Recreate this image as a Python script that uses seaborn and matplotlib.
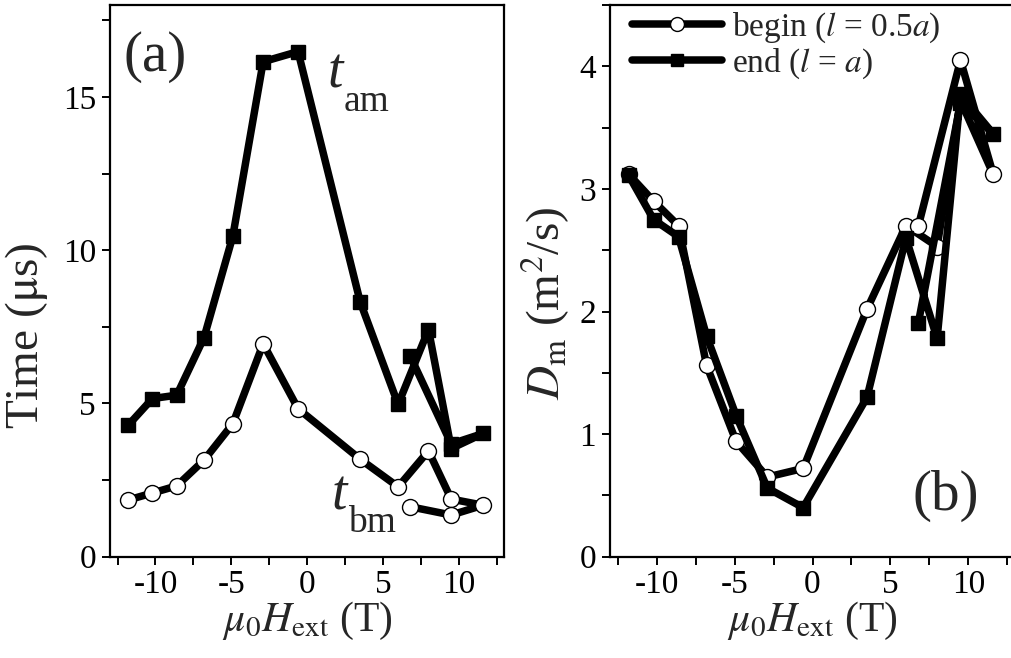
import matplotlib
matplotlib.use("Agg")
import matplotlib.pyplot as plt
import seaborn as sns
from matplotlib.lines import Line2D
from matplotlib.ticker import MultipleLocator

# Field sweep (T): up from -12 T to +12 T, then back down
field = [-11.8, -10.2, -8.6, -6.8, -4.9, -2.9, -0.6, 3.5, 6.0, 8.0, 9.5, 11.6, 9.5, 6.8]

# (a) characteristic times (us)
t_am = [4.29, 5.16, 5.27, 7.15, 10.46, 16.15, 16.48, 8.31, 4.97, 7.41, 3.53, 4.02, 3.68, 6.54]
t_bm = [1.85, 2.08, 2.31, 3.15, 4.34, 6.95, 4.83, 3.18, 2.28, 3.45, 1.88, 1.68, 1.36, 1.63]

# (b) diffusion coefficient D_m (m^2/s)
d_begin = [3.12, 2.90, 2.70, 1.56, 0.94, 0.65, 0.72, 2.02, 2.70, 2.53, 3.72, 3.12, 4.05, 2.70]
d_end = [3.11, 2.75, 2.61, 1.80, 1.15, 0.56, 0.40, 1.30, 2.60, 1.78, 3.77, 3.45, 3.70, 1.91]

x_ticks = [-10, -5, 0, 5, 10]
x_labels = ["-10", "-5", "0", "5", "10"]

sns.set_theme(style="ticks")
plt.rcParams.update({
    "font.family": ["Liberation Serif", "DejaVu Serif"],
    "mathtext.fontset": "stix",
    "axes.unicode_minus": False,
    "axes.linewidth": 1.6,
    "axes.edgecolor": "black",
    "xtick.color": "black",
    "ytick.color": "black",
    "xtick.direction": "out",
    "ytick.direction": "out",
    "xtick.major.size": 6,
    "ytick.major.size": 6,
    "xtick.minor.size": 6,
    "ytick.minor.size": 6,
    "xtick.major.width": 1.4,
    "ytick.major.width": 1.4,
    "xtick.minor.width": 1.4,
    "ytick.minor.width": 1.4,
    "xtick.labelsize": 24,
    "ytick.labelsize": 24,
})

W, H = 1011, 658
fig = plt.figure(figsize=(W / 100, H / 100), dpi=100)
bottom = (H - 556.7) / H
height = (556.7 - 5) / H
ax1 = fig.add_axes([110 / W, bottom, (504.3 - 110) / W, height])
ax2 = fig.add_axes([610 / W, bottom, (1015 - 610) / W, height])

LW = 5.4
sq = dict(marker="s", ms=10, mfc="black", mec="black", mew=1)
ci = dict(marker="o", ms=11.5, mfc="white", mec="black", mew=1)

# panel (a)
sns.lineplot(x=field, y=t_am, sort=False, estimator=None, color="black",
             lw=LW, ax=ax1, **sq)
sns.lineplot(x=field, y=t_bm, sort=False, estimator=None, color="black",
             lw=LW, ax=ax1, **ci)

# panel (b)
sns.lineplot(x=field, y=d_begin, sort=False, estimator=None, color="black",
             lw=LW, ax=ax2, **ci)
sns.lineplot(x=field, y=d_end, sort=False, estimator=None, color="black",
             lw=LW, ax=ax2, **sq)

for ax in (ax1, ax2):
    ax.set_xlim(-13, 13)
    ax.set_xticks(x_ticks)
    ax.set_xticklabels(x_labels)
    ax.xaxis.set_minor_locator(MultipleLocator(2.5))
    ax.tick_params(axis="x", which="both", pad=3)
    ax.tick_params(axis="y", which="both", pad=4)
    ax.set_xlabel(r"$\mu_0H_{\rm ext}$ (T)", fontsize=30, labelpad=0)
    for s in ax.spines.values():
        s.set_visible(True)
        s.set_color("black")

ax1.set_ylim(0, 18)
ax1.set_yticks([0, 5, 10, 15])
ax1.yaxis.set_minor_locator(MultipleLocator(2.5))
ax1.set_ylabel(r"Time ($\mathrm{\mu}$s)", fontsize=34)
ax1.yaxis.set_label_coords(-0.152, 0.40)

ax2.set_ylim(0, 4.5)
ax2.set_yticks([0, 1, 2, 3, 4])
ax2.yaxis.set_minor_locator(MultipleLocator(0.5))
ax2.set_ylabel(r"$D_{\rm m}$ (m$^2$/s)", fontsize=34)
ax2.yaxis.set_label_coords(-0.094, 0.46)

ax1.text(0.115, 0.905, "(a)", transform=ax1.transAxes, fontsize=41,
         ha="center", va="center")
ax2.text(0.83, 0.11, "(b)", transform=ax2.transAxes, fontsize=41,
         ha="center", va="center")


def fig_xy(px, py):
    return px / W, 1 - py / H


# curve names: italic t with an upright subscript
for (tx, ty), (sx, sy), sub in [((328, 87), (344, 111), "am"),
                                 ((332, 510), (348, 532), "bm")]:
    fig.text(*fig_xy(tx, ty), "t", fontsize=40, style="italic",
             ha="left", va="baseline")
    fig.text(*fig_xy(sx, sy), sub, fontsize=27, ha="left", va="baseline")

handles = [
    Line2D([], [], color="black", lw=LW, marker="o", ms=10, mfc="white",
           mec="black", mew=1),
    Line2D([], [], color="black", lw=LW, marker="s", ms=9, mfc="black",
           mec="black"),
]
labels = [r"begin ($l$ = 0.5$a$)", r"end ($l$ = $a$)"]
ax2.legend(handles, labels, loc="upper left", bbox_to_anchor=(0.055, 0.99),
           frameon=False, fontsize=24, handlelength=2.7, handletextpad=0.3,
           labelspacing=0.05, borderpad=0, borderaxespad=0)

fig.savefig("out.png", dpi=100)
